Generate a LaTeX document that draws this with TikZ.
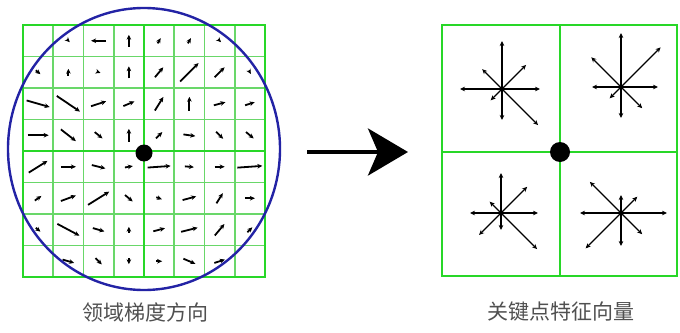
\documentclass[tikz,border=0pt]{standalone}
\usepackage{fontspec}
\newfontfamily\cjk{Noto Sans CJK SC}
\usetikzlibrary{arrows.meta}

\definecolor{gridgreen}{RGB}{40,215,40}
\definecolor{thingreen}{RGB}{105,215,105}
\definecolor{ringblue}{RGB}{35,35,165}
\definecolor{labelgray}{RGB}{80,80,80}

\tikzset{
  cellline/.style={thingreen, line width=1.8pt},
  boxline/.style={gridgreen, line width=2.8pt},
  grad/.style={line width=1.8pt, -{Stealth[length=5pt,width=4.6pt]}},
  ray/.style={line width=1.3pt, -{Stealth[length=5pt,width=4.6pt]}},
  caption/.style={font=\cjk\fontsize{21}{24}\selectfont, text=labelgray},
}

\begin{document}
\begin{tikzpicture}[x=1pt,y=-1pt]
  \useasboundingbox (0,0) rectangle (680,332);
  \fill[white] (0,0) rectangle (680,332);

  % left: 8x8 cells round the key point
  \foreach \i in {1,...,7} {
    \draw[cellline] ({23+30.25*\i},25) -- ({23+30.25*\i},277);
    \draw[cellline] (23,{25+31.5*\i}) -- (265,{25+31.5*\i});
  }
  \draw[boxline] (144,25) -- (144,277);
  \draw[boxline] (23,151) -- (265,151);
  \draw[boxline] (23,25) rectangle (265,277);

  % gradient arrows: column/row/angle/length
  \foreach \c/\r/\a/\l in {
      2/1/-45/4, 3/1/180/15, 4/1/90/12, 5/1/60/6, 6/1/60/6, 7/1/-45/4,
      1/2/-40/6, 2/2/90/7, 3/2/-20/4, 4/2/90/12, 5/2/50/13, 6/2/45/26, 7/2/45/14, 8/2/-60/4,
      1/3/-16/24, 2/3/-34/28, 3/3/18/16, 4/3/23/12, 5/3/58/16, 6/3/90/14, 7/3/15/12, 8/3/18/10,
      1/4/0/21, 2/4/-38/19, 3/4/-39/10, 4/4/90/13, 5/4/45/9, 6/4/-8/12, 7/4/-45/10, 8/4/-40/10,
      1/5/32/22, 2/5/0/15, 3/5/-14/14, 4/5/10/8, 5/5/4/23, 6/5/-5/9, 7/5/0/10, 8/5/4/25,
      1/6/35/8, 2/6/20/16, 3/6/32/25, 4/6/-40/10, 5/6/-20/6, 6/6/15/14, 7/6/58/12, 8/6/0/10,
      1/7/-40/6, 2/7/-28/25, 3/7/-16/12, 4/7/90/6, 5/7/15/12, 6/7/14/17, 7/7/50/15, 8/7/45/7,
      2/8/-16/12, 3/8/-45/9, 4/8/-90/6, 5/8/0/6, 6/8/-23/13, 7/8/18/11} {
    \draw[grad] ({23+30.25*(\c-0.5)},{25+31.5*(\r-0.5)})
      ++({180-\a}:{\l/2}) -- ++({-\a}:\l);
  }

  \draw[ringblue, line width=2.4pt] (144,149) ellipse [x radius=136, y radius=141];
  \node[circle, fill=black, inner sep=0pt, minimum size=17pt] (kpleft) at (144,153) {};

  % arrow between the two halves
  \coordinate (arrfrom) at (307,152);
  \coordinate (arrto) at (408,152);
  \draw[line width=4pt, -{Stealth[length=40pt,width=47pt,inset=10pt]}] (arrfrom) -- (arrto);

  % right: 2x2 descriptor
  \draw[boxline] (442,25) rectangle (677,276);
  \draw[boxline] (560,25) -- (560,276);
  \draw[boxline] (442,152) -- (677,152);

  % orientation histograms, lengths E,NE,N,NW,W,SW,S,SE
  \foreach \x/\y/\lens in {
      502/89/{38,34,48,28,42,16,31,51},
      621/87/{37,56,54,42,29,16,31,30},
      501/213/{37,37,40,16,31,31,17,51},
      621/213/{46,23,18,44,41,50,33,30}} {
    \foreach \l [count=\k] in \lens {
      \draw[ray] (\x,\y) -- ++({-45*(\k-1)}:\l);
    }
    \fill (\x,\y) circle (2.4);
  }
  \node[circle, fill=black, inner sep=0pt, minimum size=20pt] (kpright) at (560,152) {};

  \node[caption] (capleft) at (145,312) {领域梯度方向};
  \node[caption] (capright) at (561,312) {关键点特征向量};
\end{tikzpicture}
\end{document}
